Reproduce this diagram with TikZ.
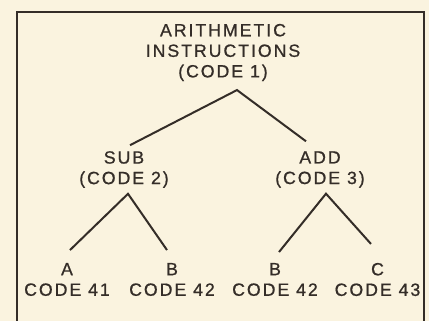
\documentclass[tikz,border=0pt]{standalone}
\usepackage{fontspec}
\setmainfont{Liberation Sans}[LetterSpace=11,FakeBold=0.8]
\usepackage{xcolor}
\usetikzlibrary{calc}
\definecolor{paper}{RGB}{250,243,223}
\definecolor{ink}{RGB}{52,45,40}

\begin{document}
\begin{tikzpicture}[x=0.75pt,y=-0.75pt,line width=1.5pt,draw=ink,
    every node/.style={inner sep=0pt,align=center,text=ink,
      font=\fontsize{13.3}{15.4}\selectfont}]
      \fill[paper] (0,0) rectangle (429,321);
      \useasboundingbox (0,0) rectangle (429,321);
      % frame, open at the foot
      \draw[ink] (16.5,321) -- (16.5,12) -- (424,12) -- (424,321);

      \node (arith) at (223,52.5) {ARITHMETIC\\INSTRUCTIONS\\(CODE 1)};
      \node (sub) at (124,169.5) {SUB\\(CODE 2)};
      \node (add) at (320,169.5) {ADD\\(CODE 3)};
      \node (suba) at (67,279.5) {A\\CODE 41};
      \node (subb) at (172,279.5) {B\\CODE 42};
      \node (addb) at (275,279.5) {B\\CODE 42};
      \node (addc) at (377.5,279.5) {C\\CODE 43};

      \coordinate (fork1) at ($(arith.south)+(14,8)$);
      \coordinate (fork2) at ($(sub.south)+(4,5)$);
      \coordinate (fork3) at ($(add.south)+(6,5)$);

      \draw[ink] ($(sub.north)+(6,-5)$) -- (fork1) -- ($(add.north)+(-14,-9)$);
      \draw[ink] ($(suba.north)+(3,-12)$) -- (fork2) -- ($(subb.north)+(-5,-12)$);
      \draw[ink] ($(addb.north)+(4,-10)$) -- (fork3) -- ($(addc.north)+(-6.5,-18)$);
    \end{tikzpicture}
\end{document}
